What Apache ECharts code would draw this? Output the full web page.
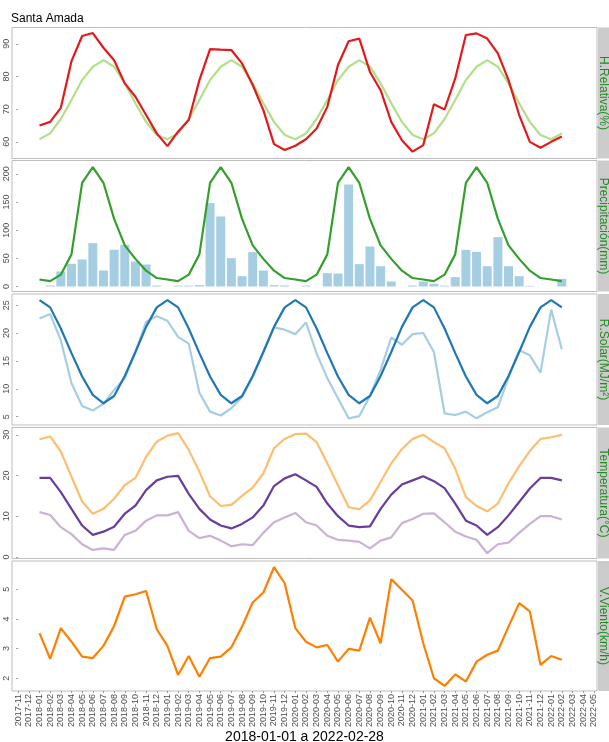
<!DOCTYPE html>
<html>
<head>
<meta charset="utf-8">
<script src="https://cdn.jsdelivr.net/npm/echarts@6/dist/echarts.min.js"></script>
<style>
html,body{margin:0;padding:0;background:#fff;}
#chart{width:609px;height:742px;}
</style>
</head>
<body>
<div id="chart"></div>
<script>
// ---- tick labels / categories ----
const monthLabels = ['2017-11','2017-12',
 '2018-01','2018-02','2018-03','2018-04','2018-05','2018-06','2018-07','2018-08','2018-09','2018-10','2018-11','2018-12',
 '2019-01','2019-02','2019-03','2019-04','2019-05','2019-06','2019-07','2019-08','2019-09','2019-10','2019-11','2019-12',
 '2020-01','2020-02','2020-03','2020-04','2020-05','2020-06','2020-07','2020-08','2020-09','2020-10','2020-11','2020-12',
 '2021-01','2021-02','2021-03','2021-04','2021-05','2021-06','2021-07','2021-08','2021-09','2021-10','2021-11','2021-12',
 '2022-01','2022-02','2022-03','2022-04','2022-05'];
const dataMonths = [
 '2018-01','2018-02','2018-03','2018-04','2018-05','2018-06','2018-07','2018-08','2018-09','2018-10','2018-11','2018-12',
 '2019-01','2019-02','2019-03','2019-04','2019-05','2019-06','2019-07','2019-08','2019-09','2019-10','2019-11','2019-12',
 '2020-01','2020-02','2020-03','2020-04','2020-05','2020-06','2020-07','2020-08','2020-09','2020-10','2020-11','2020-12',
 '2021-01','2021-02','2021-03','2021-04','2021-05','2021-06','2021-07','2021-08','2021-09','2021-10','2021-11','2021-12',
 '2022-01','2022-02'];

const hrTicks = [60,70,80,90];
const ppTicks = [0,50,100,150,200];
const rsTicks = [5,10,15,20,25];
const tTicks = [0,10,20,30];
const vvTicks = [2,3,4,5];

const panelNames = ['H.Relativa(%)','Precipitación(mm)','R.Solar(MJ/m²)','Temperatura(°C)','V.Viento(km/h)'];

// ---- series values (2018-01 .. 2022-02) ----
const hrObs = [
 65.0,66.1,70.4,84.7,92.4,93.3,88.8,85.0,77.9,73.8,68.2,62.6,
 58.7,63.1,66.7,78.9,88.4,88.2,88.1,84.0,77.4,69.7,59.3,57.5,
 58.8,60.8,64.1,70.7,83.5,90.8,91.6,81.4,75.8,66.1,60.5,57.0,
 59.0,71.5,69.9,79.4,92.7,93.2,91.6,87.1,78.9,68.2,60.0,58.2,
 60.0,61.6];
const hrClim = [
 60.8,62.6,67.0,72.8,78.9,83.0,85.0,83.0,77.9,71.8,66.1,62.1,
 60.8,62.6,67.0,72.8,78.9,83.0,85.0,83.0,77.9,71.8,66.1,62.1,
 60.8,62.6,67.0,72.8,78.9,83.0,85.0,83.0,77.9,71.8,66.1,62.1,
 60.8,62.6,67.0,72.8,78.9,83.0,85.0,83.0,77.9,71.8,66.1,62.1,
 60.8,62.6];
const ppObs = [
 0,1.8,26.6,40.2,47.9,76.9,28.4,65.1,74.0,44.4,39.0,1.8,
 0,1.5,1.5,2.5,147.9,124.3,50.3,18.3,60.9,28.4,2.4,1.8,
 0,1.5,0,23.7,23.0,181.0,39.7,71.0,36.0,8.9,0,1.8,
 8.9,4.7,1.5,16.6,65.0,61.5,36.0,87.6,36.0,18.3,1.0,0,
 0,13.6];
const ppClim = [
 12.4,9.5,21.0,57.0,184.0,212.0,184.0,120.0,73.0,49.0,28.0,15.0,
 12.4,9.5,21.0,57.0,184.0,212.0,184.0,120.0,73.0,49.0,28.0,15.0,
 12.4,9.5,21.0,57.0,184.0,212.0,184.0,120.0,73.0,49.0,28.0,15.0,
 12.4,9.5,21.0,57.0,184.0,212.0,184.0,120.0,73.0,49.0,28.0,15.0,
 12.4,9.5];
const rsObs = [
 22.6,23.4,18.7,11.0,6.9,6.1,7.3,9.8,11.9,16.6,22.0,23.0,
 22.2,19.3,18.1,9.3,5.9,5.2,6.5,8.5,12.1,16.6,21.0,20.6,
 19.8,21.9,16.3,11.9,8.3,4.7,5.1,8.7,13.4,19.2,17.9,19.8,
 20.0,16.6,5.6,5.3,5.9,4.7,5.8,6.7,12.0,16.9,16.0,12.9,
 24.2,17.1];
const rsClim = [
 25.9,24.6,20.8,16.4,12.2,8.9,7.4,8.7,12.3,16.6,21.1,24.6,
 25.9,24.6,20.8,16.4,12.2,8.9,7.4,8.7,12.3,16.6,21.1,24.6,
 25.9,24.6,20.8,16.4,12.2,8.9,7.4,8.7,12.3,16.6,21.1,24.6,
 25.9,24.6,20.8,16.4,12.2,8.9,7.4,8.7,12.3,16.6,21.1,24.6,
 25.9,24.6];
const tMax = [
 28.9,29.6,25.9,19.7,13.6,10.6,11.8,14.3,17.6,19.4,24.6,28.3,
 29.8,30.4,26.3,20.9,14.9,12.5,12.8,15.0,17.0,20.5,26.7,29.0,
 30.2,30.3,28.2,23.0,17.6,12.2,11.7,13.9,18.4,23.0,26.5,29.0,
 30.0,28.2,26.7,21.7,14.7,12.5,11.2,13.1,18.1,22.3,26.0,29.0,
 29.4,30.0];
const tMean = [
 19.4,19.4,15.9,11.8,7.7,5.4,6.2,7.4,10.6,12.6,16.4,18.8,
 19.7,19.9,15.5,11.8,9.2,7.7,7.0,8.1,9.7,12.6,17.4,19.3,
 20.3,18.8,17.2,13.1,10.0,7.7,7.3,7.5,11.8,15.3,17.8,18.8,
 19.8,18.6,16.9,13.1,8.9,7.7,5.4,7.3,10.2,13.5,16.8,19.4,
 19.4,18.8];
const tMin = [
 11.0,10.3,7.3,5.6,3.1,1.7,2.1,1.7,5.4,6.4,8.9,10.2,
 10.2,11.0,6.4,4.6,5.2,4.0,2.6,3.1,2.9,5.9,8.5,9.7,
 10.8,8.5,7.7,5.2,4.2,4.0,3.7,2.1,4.0,4.8,8.3,9.3,
 10.6,10.7,8.5,6.2,5.0,4.2,0.9,3.1,3.5,5.9,8.1,10.0,
 10.0,9.2];
const wind = [
 3.52,2.65,3.69,3.23,2.73,2.68,3.09,3.76,4.75,4.83,4.94,3.65,
 3.09,2.11,2.75,2.05,2.68,2.73,3.04,3.74,4.55,4.89,5.74,5.20,
 3.69,3.23,3.04,3.12,2.56,2.99,2.93,4.04,3.18,5.34,4.98,4.62,
 3.18,2.00,1.74,2.13,1.89,2.56,2.79,2.93,3.74,4.53,4.25,2.45,
 2.75,2.62];

// ---- build ----
const xIdx = m => monthLabels.indexOf(m);
const pts = vals => vals.map((v, i) => [xIdx(dataMonths[i]), v]);
const tickIdx = monthLabels.map((m, i) => i);

const FONT = 'Liberation Sans, Arial, sans-serif';
const panelTop = [27.5, 160.5, 294, 427.5, 561];
const panelH = 131;
const gridLeft = 12, gridWidth = 585;
const yRanges = [[54.9, 95.0], [-8.9, 223.6], [3.5, 27.0], [-0.4, 31.8], [1.57, 5.95]];
const yTicks = [hrTicks, ppTicks, rsTicks, tTicks, vvTicks];

const grids = panelTop.map((t, k) => ({
  left: gridLeft, width: gridWidth, top: t, height: k === 4 ? 130 : panelH,
  show: true, borderColor: '#bdbdbd', borderWidth: 1, backgroundColor: '#fff', containLabel: false
}));

const xAxes = panelTop.map((t, k) => ({
  gridIndex: k, type: 'value', min: -0.58, max: 54.3,
  axisLine: {show: false}, splitLine: {show: false},
  axisTick: {show: k === 4, customValues: tickIdx, length: 2, lineStyle: {color: '#999'}},
  axisLabel: {show: k === 4, customValues: tickIdx, rotate: 90, fontSize: 9, color: '#4d4d4d',
    fontFamily: FONT, margin: 3, formatter: v => monthLabels[Math.round(v)] || ''}
}));

const yAxes = yRanges.map((r, k) => ({
  gridIndex: k, type: 'value', min: r[0], max: r[1],
  axisLine: {show: false}, splitLine: {show: false},
  axisTick: {show: true, customValues: yTicks[k], length: 2, lineStyle: {color: '#999'}},
  axisLabel: {customValues: yTicks[k], rotate: 90, fontSize: 9, color: '#4d4d4d', fontFamily: FONT, margin: 1}
}));

const line = (k, vals, color, w) => ({
  type: 'line', xAxisIndex: k, yAxisIndex: k, data: pts(vals), symbol: 'none',
  lineStyle: {color: color, width: w || 2.2}, itemStyle: {color: color}, silent: true
});

const series = [
  line(0, hrClim, '#B2DF8A'),
  line(0, hrObs, '#E31A1C'),
  {type: 'bar', xAxisIndex: 1, yAxisIndex: 1, data: pts(ppObs), barWidth: 9,
   itemStyle: {color: '#A6CEE3'}, silent: true},
  line(1, ppClim, '#33A02C'),
  line(2, rsObs, '#A6CEE3'),
  line(2, rsClim, '#1F78B4'),
  line(3, tMax, '#FDBF6F'),
  line(3, tMin, '#CAB2D6'),
  line(3, tMean, '#6A3D9A'),
  line(4, wind, '#FF7F00')
];

const graphics = [];
panelTop.forEach((t, k) => {
  const h = k === 4 ? 130 : panelH;
  graphics.push({type: 'rect', shape: {x: 598, y: t, width: 12, height: h},
    style: {fill: '#cccccc'}, silent: true});
  graphics.push({type: 'text', x: 603.5, y: t + h / 2, rotation: -Math.PI / 2,
    style: {text: panelNames[k], fill: '#228B22', font: '12px ' + FONT, align: 'center', verticalAlign: 'middle'},
    silent: true});
});
graphics.push({type: 'text', x: 11, y: 18.5,
  style: {text: 'Santa Amada', fill: '#000', font: '12px ' + FONT, align: 'left', verticalAlign: 'middle'}});
graphics.push({type: 'text', x: 304.5, y: 737,
  style: {text: '2018-01-01 a 2022-02-28', fill: '#000', font: '14px ' + FONT, align: 'center', verticalAlign: 'middle'}});

const chart = echarts.init(document.getElementById('chart'), null, {renderer: 'canvas'});
chart.setOption({
  animation: false,
  backgroundColor: '#fff',
  textStyle: {fontFamily: FONT},
  grid: grids, xAxis: xAxes, yAxis: yAxes, series: series, graphic: graphics
});
</script>
</body>
</html>
